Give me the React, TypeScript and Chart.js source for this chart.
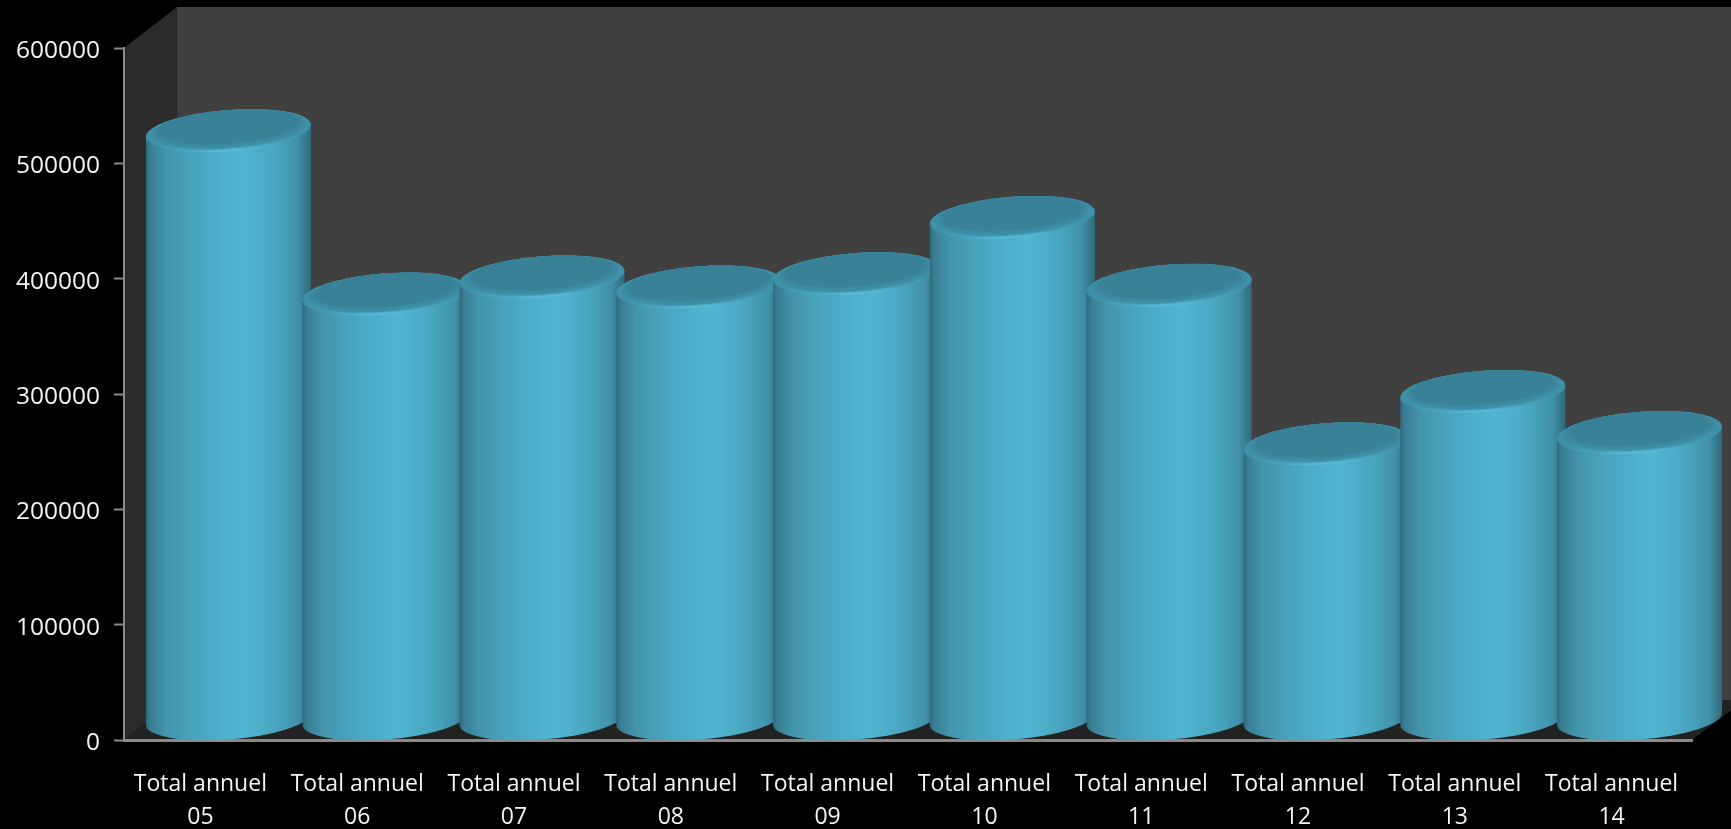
import React, { useEffect, useRef } from "react";
import { Chart, registerables } from "chart.js";

Chart.register(...registerables);

const categories = ["05", "06", "07", "08", "09", "10", "11", "12", "13", "14"];
const labelPrefix = "Total annuel";
const totals = [510500, 368900, 383700, 375000, 386500, 435300, 376500, 239000, 284400, 248800];
const yTicksMax = 600000;
const yTicksStep = 100000;

const FONT = '"Open Sans", "Noto Sans", sans-serif';
const DEPTH_X = 53;
const DEPTH_Y = 40;
const BAR_SHIFT_X = 26;
const RY = 20.6;
const SKEW = 6;

const wallsPlugin = {
  id: "walls",
  beforeDraw(chart: any) {
    const { ctx, chartArea: a, width, height } = chart;
    ctx.save();
    ctx.fillStyle = "#000";
    ctx.fillRect(0, 0, width, height);
    ctx.fillStyle = "#404040";
    ctx.fillRect(a.left + DEPTH_X, a.top - DEPTH_Y - 1, a.right + DEPTH_X - a.left, a.bottom - a.top + 1);
    ctx.fillStyle = "#2b2b2b";
    ctx.beginPath();
    ctx.moveTo(a.left, a.top);
    ctx.lineTo(a.left + DEPTH_X, a.top - DEPTH_Y - 1);
    ctx.lineTo(a.left + DEPTH_X, a.bottom - DEPTH_Y);
    ctx.lineTo(a.left, a.bottom);
    ctx.closePath();
    ctx.fill();
    ctx.fillStyle = "#222222";
    ctx.beginPath();
    ctx.moveTo(a.left, a.bottom);
    ctx.lineTo(a.left + DEPTH_X, a.bottom - DEPTH_Y);
    ctx.lineTo(a.right + DEPTH_X, a.bottom - DEPTH_Y);
    ctx.lineTo(a.right, a.bottom);
    ctx.closePath();
    ctx.fill();
    ctx.restore();
  },
};

function mix(a: number[], b: number[], t: number) {
  return `rgb(${a.map((v, i) => Math.round(v + (b[i] - v) * t)).join(",")})`;
}

function drawCylinder(ctx: CanvasRenderingContext2D, cx: number, topY: number, baseY: number, rx: number) {
  const H = baseY - topY;
  ctx.save();
  ctx.transform(1, -SKEW / rx, 0, 1, cx, baseY - RY);

  const side = ctx.createLinearGradient(-rx, 0, rx, 0);
  side.addColorStop(0, "#2f6a7c");
  side.addColorStop(0.03, "#3a7f94");
  side.addColorStop(0.12, "#4394ab");
  side.addColorStop(0.3, "#49a5bf");
  side.addColorStop(0.58, "#51b6d2");
  side.addColorStop(0.78, "#4aa6c0");
  side.addColorStop(0.92, "#4091a8");
  side.addColorStop(1, "#2f6a7a");
  ctx.fillStyle = side;
  ctx.beginPath();
  ctx.moveTo(-rx, -H);
  ctx.lineTo(-rx, 0);
  ctx.ellipse(0, 0, rx, RY, 0, Math.PI, 0, true);
  ctx.lineTo(rx, -H);
  ctx.closePath();
  ctx.fill();

  ctx.translate(0, -H);
  // bevelled rim: a bright lower edge fading into the flat face
  const rim = ctx.createLinearGradient(0, -RY, 0, RY);
  rim.addColorStop(0, "#3c88a0");
  rim.addColorStop(0.7, "#3f91a9");
  rim.addColorStop(0.92, "#49a6c0");
  rim.addColorStop(1, "#5cc1da");
  ctx.fillStyle = rim;
  ctx.beginPath();
  ctx.ellipse(0, 0, rx, RY, 0, 0, Math.PI * 2);
  ctx.fill();

  const steps = 7;
  for (let i = 1; i <= steps; i++) {
    const t = i / steps;
    ctx.fillStyle = mix([64, 150, 174], [57, 129, 151], t);
    ctx.beginPath();
    ctx.ellipse(0, -0.8 - 3.6 * t, rx - 0.5 - 12 * t, RY - 1 - 3.5 * t, 0, 0, Math.PI * 2);
    ctx.fill();
  }
  ctx.restore();
}

const cylinderPlugin = {
  id: "cylinders",
  beforeDatasetDraw(chart: any, args: any) {
    const ctx = chart.ctx;
    args.meta.data.forEach((el: any) => {
      const { x, y, base, width } = el.getProps(["x", "y", "base", "width"], true);
      drawCylinder(ctx, x + BAR_SHIFT_X, y, base, width / 2);
    });
    return false;
  },
};

export default function App() {
  const ref = useRef<HTMLCanvasElement>(null);
  useEffect(() => {
    const chart = new Chart(ref.current as HTMLCanvasElement, {
      type: "bar",
      data: {
        labels: categories.map((c) => [labelPrefix, c]),
        datasets: [
          {
            label: labelPrefix,
            data: totals,
            backgroundColor: "#4fb3d1",
            barThickness: 165,
          },
        ],
      },
      plugins: [wallsPlugin, cylinderPlugin],
      options: {
        responsive: false,
        animation: false,
        layout: { padding: { top: 48, right: 39, left: 0, bottom: 0 } },
        plugins: { legend: { display: false }, tooltip: { enabled: false } },
        scales: {
          x: {
            afterFit: (s: any) => {
              s.height = 89;
            },
            grid: { display: true, drawOnChartArea: false, drawTicks: false },
            border: { color: "#8a8a8a", width: 3 },
            ticks: {
              color: "#f4f4f4",
              font: { family: FONT, size: 23, weight: "500", lineHeight: 1.44 },
              padding: 28,
              maxRotation: 0,
              minRotation: 0,
              autoSkip: false,
              labelOffset: -2,
            },
          },
          y: {
            min: 0,
            max: yTicksMax,
            afterFit: (s: any) => {
              s.width = 124;
            },
            grid: { display: true, drawOnChartArea: false, drawTicks: true, tickLength: 10, tickColor: "#8a8a8a", tickWidth: 2 },
            border: { color: "#8a8a8a", width: 2 },
            ticks: {
              stepSize: yTicksStep,
              color: "#f4f4f4",
              font: { family: FONT, size: 24.5, weight: "500" },
              padding: 14,
              labelOffset: 3,
              callback: (v: any) => String(v),
            },
          },
        },
      },
    } as any);
    return () => chart.destroy();
  }, []);
  return (
    <div style={{ position: "fixed", left: 0, top: 0, width: 1731, height: 829, background: "#000" }}>
      <canvas ref={ref} width={1731} height={829} style={{ display: "block" }} />
    </div>
  );
}
